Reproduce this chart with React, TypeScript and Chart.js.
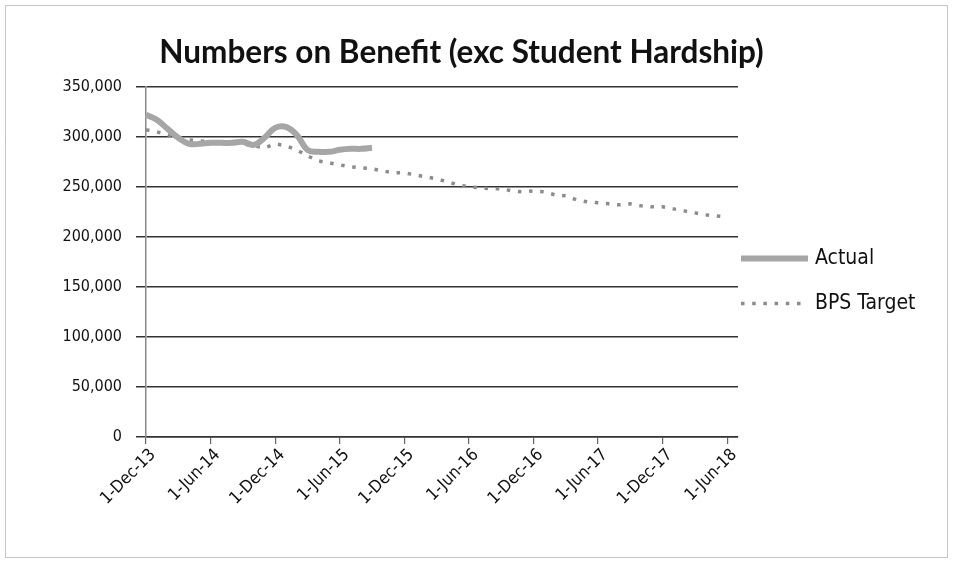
import React, { useEffect, useRef } from 'react';
import { Chart, registerables } from 'chart.js';

Chart.register(...registerables);

const chartTitle = 'Numbers on Benefit (exc Student Hardship)';

const categories = [
  '1-Dec-13',
  '1-Jan-14', '1-Feb-14', '1-Mar-14', '1-Apr-14', '1-May-14', '1-Jun-14',
  '1-Jul-14', '1-Aug-14', '1-Sep-14', '1-Oct-14', '1-Nov-14', '1-Dec-14',
  '1-Jan-15', '1-Feb-15', '1-Mar-15', '1-Apr-15', '1-May-15', '1-Jun-15',
  '1-Jul-15', '1-Aug-15', '1-Sep-15', '1-Oct-15', '1-Nov-15', '1-Dec-15',
  '1-Jan-16', '1-Feb-16', '1-Mar-16', '1-Apr-16', '1-May-16', '1-Jun-16',
  '1-Jul-16', '1-Aug-16', '1-Sep-16', '1-Oct-16', '1-Nov-16', '1-Dec-16',
  '1-Jan-17', '1-Feb-17', '1-Mar-17', '1-Apr-17', '1-May-17', '1-Jun-17',
  '1-Jul-17', '1-Aug-17', '1-Sep-17', '1-Oct-17', '1-Nov-17', '1-Dec-17',
  '1-Jan-18', '1-Feb-18', '1-Mar-18', '1-Apr-18', '1-May-18', '1-Jun-18',
  '1-Jul-18',
];

// Actual: Dec-13 .. Sep-15
const actualValues = [
  322000, 317000, 308000, 299000, 293000, 293000, 294000, 294000, 294000, 295000,
  292000, 299000, 309000, 310000, 302000, 287000, 285000, 285000, 287000, 288000,
  288000, 289000,
];

// BPS Target: Dec-13 .. Jun-18
const targetValues = [
  307000, 305000, 302000, 299000, 297000, 296000, 295000, 294000, 294000, 293000,
  291000, 289000, 293000, 291000, 287000, 281000, 276000, 274000, 272000, 270000,
  269000, 268000, 266000, 264000, 264000, 262000, 260000, 258000, 255000, 252000,
  250000, 249000, 248000, 248000, 246000, 245000, 246000, 245000, 242000, 241000,
  237000, 235000, 234000, 233000, 232000, 233000, 231000, 230000, 230000, 228000,
  226000, 224000, 222000, 221000, 220000,
];

const seriesNames = ['Actual', 'BPS Target'];
const yTickStep = 50000;
const yMax = 350000;
const labelEvery = 6;

const TICK_FONT = "'DejaVu Sans Condensed', 'DejaVu Sans', sans-serif";

const framePlugin = {
  id: 'frame',
  beforeDraw(chart: any) {
    const { ctx, width, height } = chart;
    ctx.save();
    ctx.fillStyle = '#ffffff';
    ctx.fillRect(0, 0, width, height);
    ctx.strokeStyle = '#8a8a8a';
    ctx.lineWidth = 1;
    ctx.setLineDash([1, 1]);
    ctx.strokeRect(5.5, 5.5, width - 11, height - 11);
    ctx.restore();
  },
};

const legendPlugin = {
  id: 'sideLegend',
  afterDraw(chart: any) {
    const { ctx, chartArea } = chart;
    const x0 = chartArea.right + 3;
    const sample = 67;
    const startY = chart.height / 2 - 23;
    ctx.save();
    chart.data.datasets.forEach((ds: any, i: number) => {
      const y = startY + i * 45;
      ctx.beginPath();
      ctx.strokeStyle = ds.borderColor;
      ctx.lineWidth = ds.borderWidth;
      ctx.setLineDash(ds.borderDash || []);
      ctx.lineCap = 'butt';
      ctx.moveTo(x0, y);
      ctx.lineTo(x0 + sample, y);
      ctx.stroke();
      ctx.setLineDash([]);
      ctx.fillStyle = '#111111';
      ctx.font = `21px ${TICK_FONT}`;
      ctx.textAlign = 'left';
      ctx.textBaseline = 'middle';
      ctx.fillText(ds.label, x0 + sample + 7, y);
    });
    ctx.restore();
  },
};

export default function App() {
  const canvasRef = useRef<HTMLCanvasElement | null>(null);

  useEffect(() => {
    const canvas = canvasRef.current;
    if (!canvas) return;
    const chart = new Chart(canvas, {
      type: 'line',
      data: {
        labels: categories,
        datasets: [
          {
            label: seriesNames[0],
            data: actualValues,
            borderColor: '#a6a6a6',
            backgroundColor: '#a6a6a6',
            borderWidth: 6,
            tension: 0.4,
            pointRadius: 0,
            fill: false,
            spanGaps: false,
          },
          {
            label: seriesNames[1],
            data: targetValues,
            borderColor: '#8c8c8c',
            backgroundColor: '#8c8c8c',
            borderWidth: 3.5,
            borderDash: [3.5, 7.7],
            tension: 0,
            pointRadius: 0,
            fill: false,
          },
        ],
      },
      options: {
        responsive: false,
        animation: false,
        devicePixelRatio: 1,
        layout: { padding: { left: 0, right: 30, top: 0, bottom: 0 } },
        plugins: {
          legend: { display: false },
          tooltip: { enabled: false },
          title: {
            display: true,
            text: chartTitle,
            color: '#111111',
            font: { family: 'Lato, sans-serif', size: 31.5, weight: 'bold', lineHeight: 1.2 },
            padding: { top: 34, bottom: 15 },
          },
        },
        scales: {
          x: {
            type: 'category',
            offset: false,
            afterBuildTicks: (scale: any) => {
              scale.ticks = scale.ticks.filter((t: any) => t.value % labelEvery === 0);
            },
            afterFit: (scale: any) => {
              scale.height = 126;
            },
            grid: {
              drawOnChartArea: false,
              drawTicks: true,
              tickLength: 7,
              color: '#666666',
              lineWidth: 1.2,
            },
            border: { display: true, color: '#333333', width: 1.5 },
            ticks: {
              autoSkip: false,
              minRotation: 45,
              maxRotation: 45,
              padding: 1,
              labelOffset: 7,
              color: '#111111',
              font: { family: TICK_FONT, size: 17 },
            },
          },
          y: {
            type: 'linear',
            position: 'left',
            min: 0,
            max: yMax,
            afterFit: (scale: any) => {
              scale.width = 146;
            },
            grid: {
              color: '#333333',
              lineWidth: 1.5,
              tickLength: 10,
              drawTicks: true,
            },
            border: { display: true, color: '#8a8a8a', width: 1.5 },
            ticks: {
              stepSize: yTickStep,
              padding: 14,
              color: '#111111',
              font: { family: TICK_FONT, size: 16 },
              callback: (v: any) => Number(v).toLocaleString('en-US'),
            },
          },
          legendSpace: {
            type: 'linear',
            position: 'right',
            display: true,
            grid: { display: false, drawTicks: false },
            border: { display: false },
            ticks: { display: false },
            afterFit: (scale: any) => {
              scale.width = 185;
            },
          },
        },
      },
      plugins: [framePlugin, legendPlugin],
    });
    return () => chart.destroy();
  }, []);

  return (
    <div style={{ position: 'fixed', left: 0, top: 0, width: 953, height: 563, background: '#fff' }}>
      <canvas ref={canvasRef} width={953} height={563} style={{ display: 'block' }} />
    </div>
  );
}
